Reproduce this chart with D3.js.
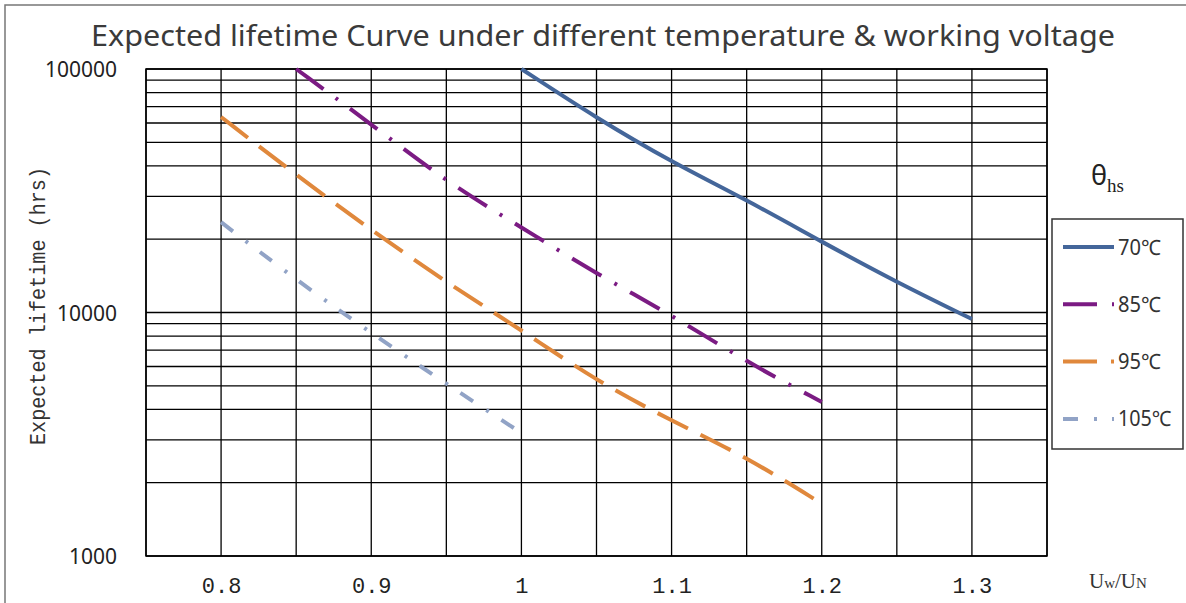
<!DOCTYPE html>
<html lang="en">
  <head>
    <meta charset="utf-8">
    <title>Expected lifetime curve</title>
    <script src="https://d3js.org/d3.v7.min.js"></script>
    <style type="text/css">
        body {
          margin: 0;
          background: #fff;
        }
        .grid line {
          stroke: #000;
          stroke-width: 1.3px;
        }
        .tick-label {
          font-family: "Noto Sans", sans-serif;
          font-size: 21px;
          fill: #222;
        }
        .x-label {
          font-family: "Liberation Mono", monospace;
          font-size: 22px;
          fill: #222;
        }
        .legend-label {
          font-family: "Noto Sans", "DejaVu Sans", sans-serif;
          font-size: 21px;
          fill: #333;
        }
    </style>
  </head>
  <body>
    <div id="chart"></div>
    <script>
        // values
        var seriesNames = ["70℃", "85℃", "95℃", "105℃"];

        var voltage70 = [1.0, 1.05, 1.1, 1.15, 1.2, 1.25, 1.3];
        var life70 = [100000, 62900, 41500, 29000, 19500, 13300, 9400];

        var voltage85 = [0.85, 0.9, 0.95, 1.0, 1.05, 1.1, 1.15, 1.2];
        var life85 = [100000, 59400, 34400, 22400, 14400, 9770, 6260, 4290];

        var voltage95 = [0.8, 0.85, 0.9, 0.95, 1.0, 1.05, 1.1, 1.15, 1.2];
        var life95 = [63500, 36700, 21800, 13300, 8480, 5230, 3590, 2550, 1640];

        var voltage105 = [0.8, 0.85, 0.9, 0.95, 1.0];
        var life105 = [23500, 13600, 8240, 5090, 3200];

        var xTickLabels = [0.8, 0.9, 1.0, 1.1, 1.2, 1.3];
        var yTickLabels = [1000, 10000, 100000];

        var seriesStyle = [
          {color: "#44669a", dash: null},
          {color: "#7b1b83", dash: "34,15,3,15"},
          {color: "#e0883c", dash: "34,14"},
          {color: "#91a3c6", dash: "15,16,3,15"}
        ];

        var series = [
          d3.zip(voltage70, life70),
          d3.zip(voltage85, life85),
          d3.zip(voltage95, life95),
          d3.zip(voltage105, life105)
        ];

        var width = 1186, height = 603;
        var plot = {left: 146, right: 1047, top: 69, bottom: 556};

        var svg = d3.select("#chart").append("svg")
            .attr("width", width)
            .attr("height", height);

        // outer frame
        svg.append("path")
            .attr("d", "M5," + height + "V5H" + width)
            .attr("fill", "none")
            .attr("stroke", "#777")
            .attr("stroke-width", 1.5);

        var x = d3.scaleLinear()
            .domain([0.75, 1.35])
            .range([plot.left, plot.right]);

        var y = d3.scaleLog()
            .domain([1000, 100000])
            .range([plot.bottom, plot.top]);

        svg.append("text")
            .attr("x", 603)
            .attr("y", 46)
            .attr("text-anchor", "middle")
            .attr("textLength", 1024)
            .attr("lengthAdjust", "spacingAndGlyphs")
            .style("font-family", "'Noto Sans', sans-serif")
            .style("font-size", "29px")
            .style("fill", "#3a3a3a")
            .text("Expected lifetime Curve under different temperature & working voltage");

        // grid
        var grid = svg.append("g").attr("class", "grid");

        grid.selectAll(".v")
          .data(x.ticks(12))
          .enter().append("line")
            .attr("x1", function(d) { return x(d); })
            .attr("x2", function(d) { return x(d); })
            .attr("y1", plot.top)
            .attr("y2", plot.bottom);

        grid.selectAll(".h")
          .data(y.ticks())
          .enter().append("line")
            .attr("x1", plot.left)
            .attr("x2", plot.right)
            .attr("y1", function(d) { return y(d); })
            .attr("y2", function(d) { return y(d); });

        svg.append("rect")
            .attr("x", plot.left)
            .attr("y", plot.top)
            .attr("width", plot.right - plot.left)
            .attr("height", plot.bottom - plot.top)
            .attr("fill", "none")
            .attr("stroke", "#000")
            .attr("stroke-width", 1.5);

        // axes
        var yAxis = svg.append("g")
            .attr("transform", "translate(" + plot.left + ",0)")
            .call(d3.axisLeft(y).tickValues(yTickLabels).tickFormat(d3.format("d")).tickSize(0).tickPadding(29));
        yAxis.select(".domain").remove();
        yAxis.selectAll("text").attr("class", "tick-label").attr("dy", "0.36em");

        var xAxis = svg.append("g")
            .attr("transform", "translate(0," + plot.bottom + ")")
            .call(d3.axisBottom(x).tickValues(xTickLabels).tickFormat(function(d) { return String(d); }).tickSize(0).tickPadding(21));
        xAxis.select(".domain").remove();
        xAxis.selectAll("text").attr("class", "x-label");

        svg.append("text")
            .attr("transform", "translate(45,306) rotate(-90)")
            .attr("text-anchor", "middle")
            .attr("textLength", 278)
            .attr("lengthAdjust", "spacingAndGlyphs")
            .style("font-family", "'Liberation Mono', monospace")
            .style("font-size", "22px")
            .style("fill", "#333")
            .text("Expected lifetime (hrs)");

        var unit = svg.append("text")
            .attr("x", 1089)
            .attr("y", 588)
            .style("font-family", "'Liberation Serif', serif")
            .style("fill", "#333");
        unit.append("tspan").style("font-size", "21px").text("U");
        unit.append("tspan").style("font-size", "15px").text("w");
        unit.append("tspan").style("font-size", "21px").text("/U");
        unit.append("tspan").style("font-size", "15px").text("N");

        // curves
        var line = d3.line()
            .curve(d3.curveBasis)
            .x(function(d) { return x(d[0]); })
            .y(function(d) { return y(d[1]); });

        svg.selectAll(".curve")
          .data(series)
          .enter().append("path")
            .attr("class", "curve")
            .attr("d", line)
            .attr("fill", "none")
            .attr("stroke", function(d, i) { return seriesStyle[i].color; })
            .attr("stroke-width", 4)
            .attr("stroke-dasharray", function(d, i) { return seriesStyle[i].dash; });

        // legend
        var theta = svg.append("text")
            .attr("x", 1091)
            .attr("y", 185)
            .style("fill", "#222");
        theta.append("tspan")
            .style("font-family", "'Noto Sans', sans-serif")
            .style("font-size", "27px")
            .text("θ");
        theta.append("tspan")
            .attr("dy", 7)
            .style("font-family", "'Liberation Serif', serif")
            .style("font-size", "19px")
            .text("hs");

        svg.append("rect")
            .attr("x", 1052)
            .attr("y", 219)
            .attr("width", 131)
            .attr("height", 230)
            .attr("fill", "#fff")
            .attr("stroke", "#333")
            .attr("stroke-width", 1.5);

        var legend = svg.selectAll(".legend")
          .data(seriesNames)
          .enter().append("g")
            .attr("class", "legend")
            .attr("transform", function(d, i) { return "translate(0," + (247 + i * 57.3) + ")"; });

        legend.append("line")
            .attr("x1", 1063)
            .attr("x2", 1114)
            .attr("stroke", function(d, i) { return seriesStyle[i].color; })
            .attr("stroke-width", 4)
            .attr("stroke-dasharray", function(d, i) { return seriesStyle[i].dash; });

        legend.append("text")
            .attr("class", "legend-label")
            .attr("x", 1118)
            .attr("dy", "0.36em")
            .attr("textLength", function(d) { return (d.length - 1) * 10.5 + 22; })
            .attr("lengthAdjust", "spacingAndGlyphs")
            .text(function(d) { return d; });
    </script>
  </body>
</html>
